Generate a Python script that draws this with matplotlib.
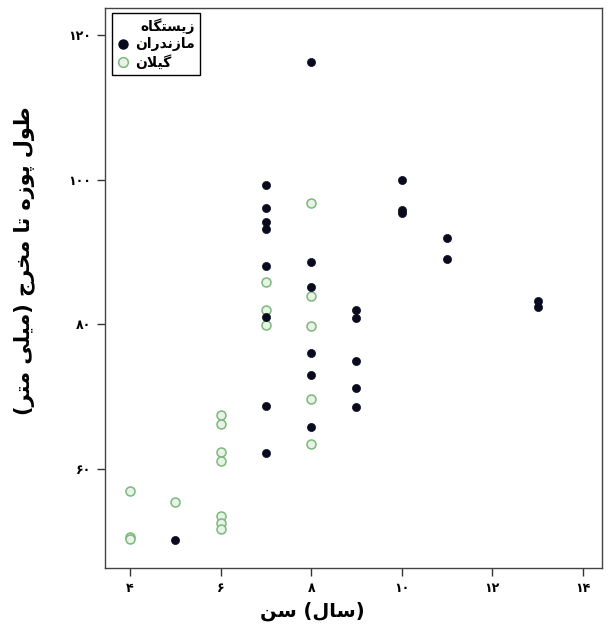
import matplotlib
matplotlib.use("Agg")
import matplotlib.pyplot as plt
from matplotlib.lines import Line2D

# ---------------- data ----------------
maz_age = [5, 7, 7, 7, 7, 7, 7, 7, 7, 8, 8, 8, 8, 8, 8,
           9, 9, 9, 9, 9, 10, 10, 10, 11, 11, 13, 13]
maz_len = [50.1, 99.2, 96.1, 94.1, 93.1, 88.1, 81.0, 68.7, 62.2,
           116.3, 88.6, 85.1, 76.0, 73.0, 65.8,
           82.0, 80.9, 74.9, 71.2, 68.5,
           100.0, 95.8, 95.4, 91.9, 89.0, 83.2, 82.3]

gil_age = [4, 4, 4, 5, 6, 6, 6, 6, 6, 6, 6, 7, 7, 7, 8, 8, 8, 8, 8]
gil_len = [56.9, 50.6, 50.2, 55.4,
           67.4, 66.2, 62.3, 61.0, 53.4, 52.5, 51.7,
           85.8, 82.0, 79.9,
           96.8, 83.9, 79.8, 69.6, 63.4]

x_ticks = [4, 6, 8, 10, 12, 14]
y_ticks = [60, 80, 100, 120]

legend_title = "زیستگاه"
series_names = ["مازندران", "گیلان"]
x_label_text = "(سال) سن"
y_label_text = "طول پوزه تا مخرج (میلی متر)"

# ------------- minimal Persian shaping (presentation forms + visual order) -------------
FORMS = {
    'ا': ('\uFE8D', '\uFE8E', None, None),
    'ب': ('\uFE8F', '\uFE90', '\uFE91', '\uFE92'),
    'پ': ('\uFB56', '\uFB57', '\uFB58', '\uFB59'),
    'ت': ('\uFE95', '\uFE96', '\uFE97', '\uFE98'),
    'ج': ('\uFE9D', '\uFE9E', '\uFE9F', '\uFEA0'),
    'خ': ('\uFEA5', '\uFEA6', '\uFEA7', '\uFEA8'),
    'د': ('\uFEA9', '\uFEAA', None, None),
    'ر': ('\uFEAD', '\uFEAE', None, None),
    'ز': ('\uFEAF', '\uFEB0', None, None),
    'س': ('\uFEB1', '\uFEB2', '\uFEB3', '\uFEB4'),
    'ط': ('\uFEC1', '\uFEC2', '\uFEC3', '\uFEC4'),
    'گ': ('\uFB92', '\uFB93', '\uFB94', '\uFB95'),
    'ل': ('\uFEDD', '\uFEDE', '\uFEDF', '\uFEE0'),
    'م': ('\uFEE1', '\uFEE2', '\uFEE3', '\uFEE4'),
    'ن': ('\uFEE5', '\uFEE6', '\uFEE7', '\uFEE8'),
    'ه': ('\uFEE9', '\uFEEA', '\uFEEB', '\uFEEC'),
    'و': ('\uFEED', '\uFEEE', None, None),
    'ی': ('\uFBFC', '\uFBFD', '\uFBFE', '\uFBFF'),
}
LAM_ALEF = ('\uFEFB', '\uFEFC')


def _dual(c):
    return c in FORMS and FORMS[c][2] is not None


def fa(s):
    out = []
    n = len(s)
    i = 0
    while i < n:
        c = s[i]
        if c not in FORMS:
            out.append(c)
            i += 1
            continue
        prev = s[i - 1] if i > 0 else None
        join_prev = prev is not None and _dual(prev)
        if c == 'ل' and i + 1 < n and s[i + 1] == 'ا':
            out.append(LAM_ALEF[1] if join_prev else LAM_ALEF[0])
            i += 2
            continue
        nxt = s[i + 1] if i + 1 < n else None
        join_next = _dual(c) and nxt in FORMS
        form = 3 if (join_prev and join_next) else 1 if join_prev else 2 if join_next else 0
        out.append(FORMS[c][form])
        i += 1
    vis = ''.join(reversed(out))
    mirror = {'(': ')', ')': '('}
    return ''.join(mirror.get(ch, ch) for ch in vis)


FA_DIGITS = str.maketrans('0123456789', '۰۱۲۳۴۵۶۷۸۹')


def fa_num(v):
    return str(v).translate(FA_DIGITS)


# ---------------- plot ----------------
plt.rcParams['font.family'] = ['DejaVu Sans']

fig = plt.figure(figsize=(6.08, 6.35), dpi=100)
ax = fig.add_axes([0.173, 0.105, 0.817, 0.882])

green_edge = '#7db87d'
green_face = '#e6f3e6'

ax.scatter(gil_age, gil_len, s=42, facecolor=green_face, edgecolor=green_edge,
           linewidth=1.1, zorder=2)
ax.scatter(maz_age, maz_len, s=34, color='#0a0a1e', edgecolor='#0a0a1e',
           linewidth=0.5, zorder=3)

ax.set_xlim(3.45, 14.42)
ax.set_ylim(46.2, 123.7)
ax.set_xticks(x_ticks)
ax.set_xticklabels([fa_num(v) for v in x_ticks], fontsize=9, fontweight='bold')
ax.set_yticks(y_ticks)
ax.set_yticklabels([fa_num(v) for v in y_ticks], fontsize=9, fontweight='bold')
ax.tick_params(direction='out', length=6, width=1, color='#333333', pad=4)

for sp in ax.spines.values():
    sp.set_linewidth(1.0)
    sp.set_color('#444444')

ax.set_xlabel(fa(x_label_text), fontsize=14, fontweight='bold')
ax.xaxis.set_label_coords(0.417, -0.06, transform=ax.transAxes)
ax.xaxis.label.set_va('top')
ax.set_ylabel(fa(y_label_text), fontsize=15, fontweight='bold')
ax.yaxis.set_label_coords(-0.142, 0.55, transform=ax.transAxes)

handles = [
    Line2D([], [], linestyle='none', marker='o', markersize=6.5,
           markerfacecolor='#0a0a1e', markeredgecolor='#0a0a1e'),
    Line2D([], [], linestyle='none', marker='o', markersize=7,
           markerfacecolor=green_face, markeredgecolor=green_edge, markeredgewidth=1.1),
]
leg = ax.legend(handles, [fa(t) for t in series_names],
                title=fa(legend_title), loc='upper left',
                bbox_to_anchor=(0.014, 0.991), borderaxespad=0,
                fancybox=False, edgecolor='black', framealpha=1,
                prop={'weight': 'bold', 'size': 10},
                title_fontproperties={'weight': 'bold', 'size': 10},
                alignment='right', handletextpad=0.4, handlelength=0.9,
                labelspacing=0.25, borderpad=0.35)
leg.get_frame().set_linewidth(1.0)

fig.savefig('out.png', dpi=100)
